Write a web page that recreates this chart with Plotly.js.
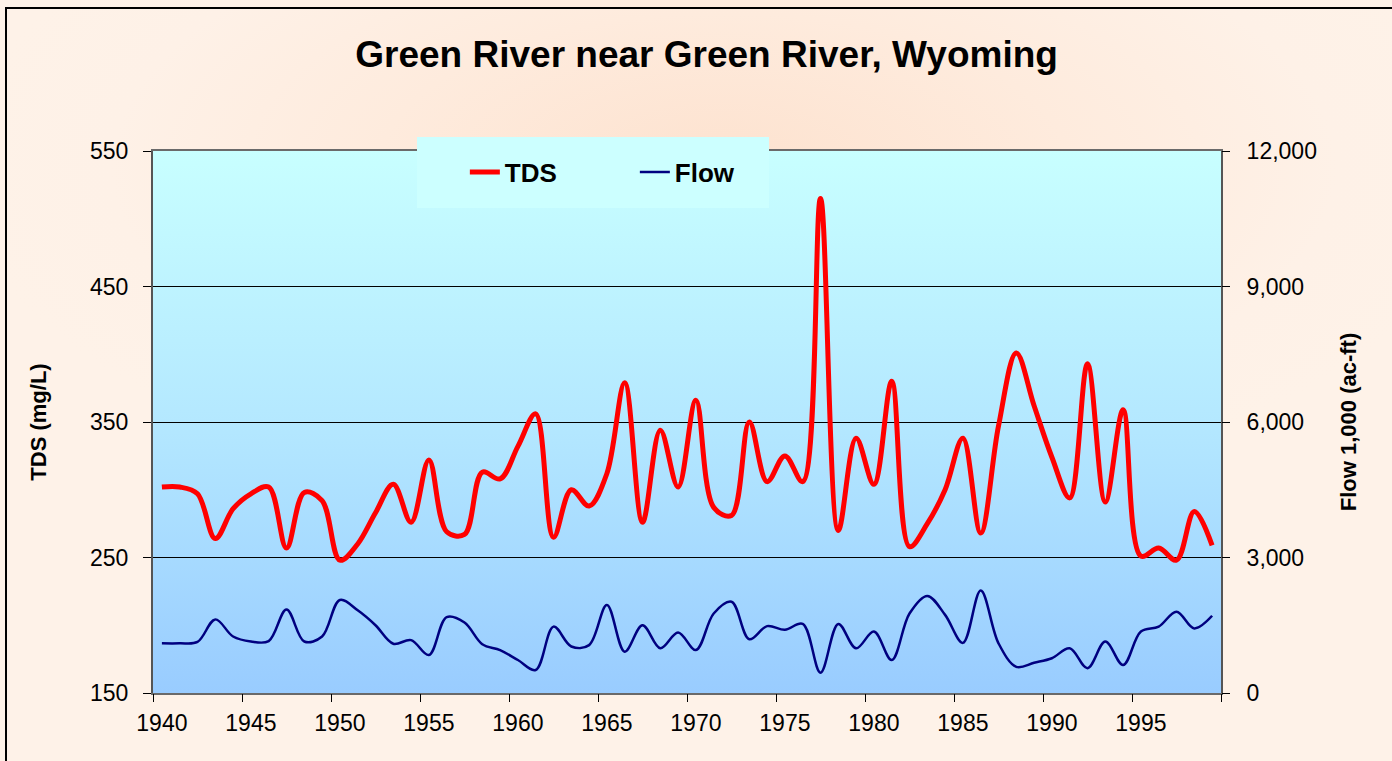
<!DOCTYPE html>
<html>
<head>
<meta charset="utf-8">
<script src="https://cdn.plot.ly/plotly-3.0.1.min.js"></script>
<style>
  html, body { margin:0; padding:0; width:1392px; height:761px; overflow:hidden; }
  #bg { position:absolute; left:0; top:0; width:1392px; height:761px;
        background: radial-gradient(ellipse 55% 45% at 52% 22%, #FDE2CF 0%, #FEEBDD 45%, #FEF1E7 80%, #FEF2E8 100%); }
  #frame { position:absolute; left:5px; top:7px; width:1400px; height:770px;
           border-left:2px solid #000; border-top:2px solid #000; }
  #plotbg { position:absolute; left:153px; top:151px; width:1068px; height:542px;
            background: linear-gradient(to bottom, #C8FFFF 0%, #B4E8FF 50%, #99CCFF 100%); }
  #chart { position:absolute; left:0; top:0; width:1392px; height:761px; }
</style>
</head>
<body>
<div id="bg"></div>
<div id="frame"></div>
<div id="plotbg"></div>
<div id="chart"></div>
<script>
// ---- Data ----
const years = [];
for (let y = 1940; y <= 1999; y++) years.push(y);

const tds = [
  302, 302, 297, 264, 286, 297, 302, 257, 298, 292,
  248, 260, 283, 304, 276, 322, 269, 267, 313, 308,
  332, 356, 265, 300, 288, 312, 379, 276, 344, 302,
  366, 287, 281, 350, 306, 325, 306, 515, 270, 338,
  304, 380, 258, 275, 300, 338, 268, 347, 401, 362,
  324, 294, 393, 291, 359, 251, 257, 248, 284, 259
];

const flow = [
  1100, 1100, 1130, 1630, 1250, 1140, 1150, 1850, 1140, 1250,
  2060, 1830, 1500, 1090, 1170, 840, 1680, 1560, 1080, 950,
  730, 510, 1470, 1030, 1060, 1950, 915, 1500, 990, 1340,
  950, 1760, 2020, 1190, 1480, 1400, 1530, 450, 1530, 990,
  1360, 730, 1760, 2150, 1730, 1110, 2270, 1100, 580, 670,
  770, 990, 550, 1140, 620, 1360, 1470, 1800, 1430, 1710
];

const xTickVals = [1940, 1945, 1950, 1955, 1960, 1965, 1970, 1975, 1980, 1985, 1990, 1995];
const xTickText = ['1940','1945','1950','1955','1960','1965','1970','1975','1980','1985','1990','1995'];
const xBoundaryTicks = [1939.5, 1944.5, 1949.5, 1954.5, 1959.5, 1964.5, 1969.5, 1974.5, 1979.5, 1984.5, 1989.5, 1994.5, 1999.5];
const tdsTicks = [150, 250, 350, 450, 550];
const flowTicks = [0, 3000, 6000, 9000, 12000];

const FONT = 'Liberation Sans, Arial, sans-serif';

const traces = [
  {
    x: years, y: tds, name: 'TDS', type: 'scatter', mode: 'lines',
    line: { color: '#FF0000', width: 5, shape: 'spline', smoothing: 1 },
    xaxis: 'x', yaxis: 'y'
  },
  {
    x: years, y: flow, name: 'Flow', type: 'scatter', mode: 'lines',
    line: { color: '#000080', width: 2.5, shape: 'spline', smoothing: 1 },
    xaxis: 'x2', yaxis: 'y2'
  }
];

const layout = {
  width: 1392, height: 761,
  margin: { l: 153, r: 171, t: 151, b: 68, pad: 0 },
  paper_bgcolor: 'rgba(0,0,0,0)',
  plot_bgcolor: 'rgba(0,0,0,0)',
  font: { family: FONT, color: '#000' },
  title: {
    text: '<b>Green River near Green River, Wyoming</b>',
    font: { family: FONT, size: 37, color: '#000' },
    xref: 'container', x: 0.5076, xanchor: 'center',
    yref: 'container', y: 1 - 54/761, yanchor: 'middle'
  },
  showlegend: true,
  legend: {
    orientation: 'h',
    x: 0.292, xanchor: 'left',
    y: 0.961, yanchor: 'middle',
    bgcolor: 'rgba(0,0,0,0)',
    borderwidth: 0,
    font: { family: FONT, size: 26, color: '#000', weight: 'bold' },
    entrywidth: 125, entrywidthmode: 'pixels'
  },
  xaxis: {
    range: [1939.5, 1999.5],
    tickmode: 'array', tickvals: xTickVals, ticktext: xTickText,
    ticks: '', showgrid: false, zeroline: false,
    showline: true, linecolor: '#6a6a6a', linewidth: 2, mirror: true,
    tickfont: { family: FONT, size: 23, color: '#000' },
    ticklabelstandoff: 8
  },
  xaxis2: {
    range: [1939.5, 1999.5], overlaying: 'x', anchor: 'y2', side: 'bottom',
    tickmode: 'array', tickvals: xBoundaryTicks, showticklabels: false,
    ticks: 'outside', ticklen: 8, tickcolor: '#000', tickwidth: 1,
    showgrid: false, zeroline: false, showline: false
  },
  yaxis: {
    range: [150, 550],
    tickmode: 'array', tickvals: tdsTicks,
    ticks: 'outside', ticklen: 8, tickcolor: '#000', tickwidth: 1,
    showgrid: true, gridcolor: '#000', gridwidth: 1, zeroline: false,
    showline: true, linecolor: '#555555', linewidth: 2, mirror: true,
    tickfont: { family: FONT, size: 23, color: '#000' },
    ticklabelstandoff: 10,
    title: { text: '<b>TDS (mg/L)</b>', font: { family: FONT, size: 22, color: '#000' }, standoff: 37 }
  },
  yaxis2: {
    range: [0, 12000], overlaying: 'y', side: 'right', anchor: 'x',
    tickmode: 'array', tickvals: flowTicks, tickformat: ',d',
    ticks: 'outside', ticklen: 8, tickcolor: '#000', tickwidth: 1,
    showgrid: false, zeroline: false, showline: false,
    tickfont: { family: FONT, size: 23, color: '#000' },
    ticklabelstandoff: 12,
    title: { text: '<b>Flow 1,000 (ac-ft)</b>', font: { family: FONT, size: 22, color: '#000' }, standoff: 24 }
  },
  shapes: [
    {
      type: 'rect', xref: 'paper', yref: 'paper', layer: 'above',
      x0: (417 - 153) / 1068, x1: (769 - 153) / 1068,
      y0: (693 - 208) / 542, y1: (693 - 137) / 542,
      fillcolor: '#CCFFFF', line: { width: 0 }
    }
  ]
};

Plotly.newPlot('chart', traces, layout, { displayModeBar: false, staticPlot: true });
</script>
</body>
</html>
